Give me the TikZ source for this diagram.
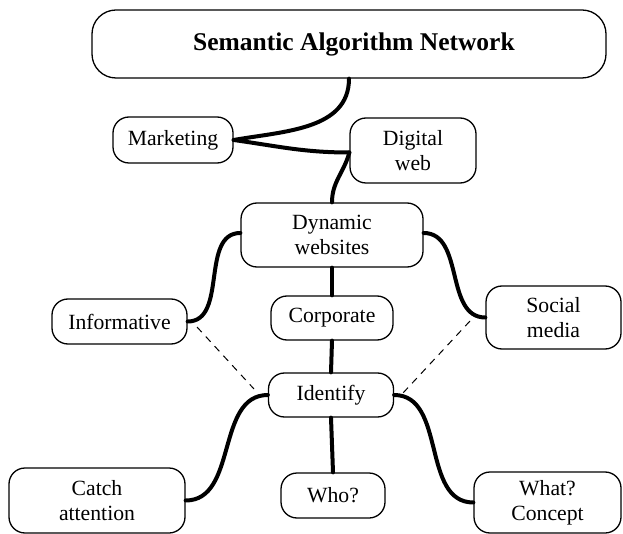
\documentclass[tikz,border=0pt]{standalone}
\usepackage{fontspec}
\setmainfont{Liberation Serif}
\begin{document}
\begin{tikzpicture}[x=1pt,y=-1pt,
  box/.style={draw, line width=1.3pt, rounded corners=16pt, align=center,
    font=\fontsize{21.7}{25}\selectfont, inner sep=0pt, fill=white},
  titlebox/.style={box, rounded corners=24pt, font=\fontsize{25.5}{29}\selectfont\bfseries},
  link/.style={line width=4pt, line cap=round},
  dlink/.style={line width=1pt, dash pattern=on 7pt off 6pt}]
\useasboundingbox (0,0) rectangle (623,534);
\fill[white] (0,0) rectangle (623,534);

% free ends of the dashed connectors
\coordinate (dl1) at (197,327);
\coordinate (dl2) at (254,389);
\coordinate (dr1) at (470,321);
\coordinate (dr2) at (403,393);

\node[titlebox, minimum width=514pt, minimum height=68pt] (title) at (349,44) {\hspace*{10pt}Semantic Algorithm Network};
\node[box, minimum width=120pt, minimum height=46pt] (mkt) at (173,140) {Marketing};
\node[box, minimum width=126pt, minimum height=65pt] (dig) at (413,150.5) {Digital\\web};
\node[box, minimum width=182pt, minimum height=64pt] (dyn) at (332,235) {Dynamic\\websites};
\node[box, minimum width=135pt, minimum height=45pt] (info) at (119.5,321.5) {Informative};
\node[box, minimum width=122pt, minimum height=44pt] (corp) at (332,318) {Corporate};
\node[box, minimum width=135pt, minimum height=63pt] (soc) at (553.5,317.5) {Social\\media};
\node[box, minimum width=125pt, minimum height=44pt] (ident) at (331,395) {Identify};
\node[box, minimum width=176pt, minimum height=65pt] (catch) at (97,500.5) {Catch\\attention};
\node[box, minimum width=104pt, minimum height=45pt] (who) at (333,495.5) {Who?};
\node[box, minimum width=147pt, minimum height=61pt] (what) at (547.5,502.5) {What?\\Concept};

\draw[link] (title.south) to[out=-90, in=10] (mkt.east);
\draw[link] (mkt.east) to[out=-8, in=180] ([yshift=-2pt]dig.west);
\draw[link] ([yshift=-2pt]dig.west) to[out=-105, in=90] (dyn.north);
\draw[link] ([yshift=2pt]dyn.west) to[out=180, in=0] (info.east);
\draw[link] ([yshift=2pt]dyn.east) to[out=0, in=180] (soc.west);
\draw[link] (dyn.south) -- (corp.north);
\draw[link] (corp.south) -- (ident.north);
\draw[link] (ident.west) to[out=180, in=0] (catch.east);
\draw[link] (ident.east) to[out=0, in=180] (what.west);
\draw[link] (ident.south) -- (who.north);
\draw[dlink] (dl1) -- (dl2);
\draw[dlink] (dr1) -- (dr2);
\end{tikzpicture}
\end{document}
